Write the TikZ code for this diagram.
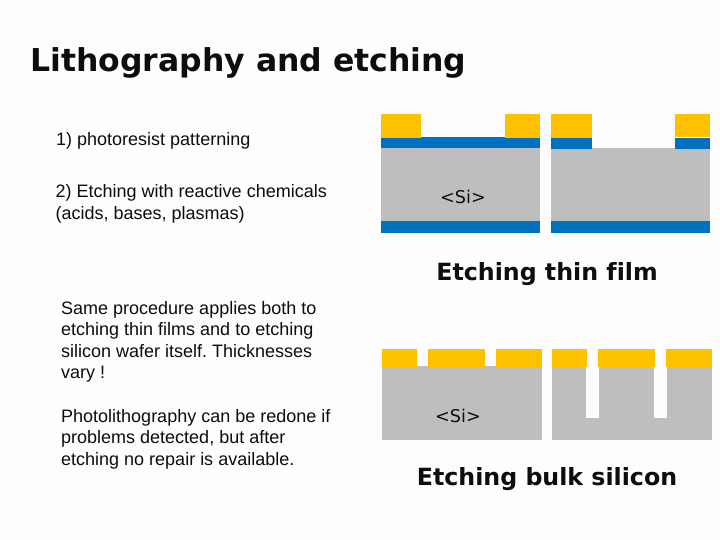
\documentclass[tikz,border=0pt]{standalone}
\usepackage{fontspec}
\setmainfont[Ligatures=CommonOff]{Liberation Sans}
\newfontfamily\djv[Ligatures=CommonOff]{DejaVu Sans}
\definecolor{bgc}{HTML}{FDFDFD}
\definecolor{resist}{HTML}{FFC000}
\definecolor{film}{HTML}{0070C0}
\definecolor{wafer}{HTML}{BEBEBE}
\newcommand\toplines[1]{\vtop{\halign{##\hfil\cr #1\crcr}}}
\tikzset{
  txt/.style={anchor=base west,inner sep=0pt,font=\fontsize{18}{21.6}\selectfont\frenchspacing,text=black!95},
  head/.style={anchor=base,inner sep=0pt,font=\djv\bfseries\fontsize{23.7}{29}\selectfont,text=black!95},
  si/.style={anchor=base,inner sep=0pt,font=\djv\fontsize{17.6}{21}\selectfont,text=black!95},
  rs/.style={fill=resist},
  fm/.style={fill=film},
  wf/.style={fill=wafer}
}
\begin{document}
\begin{tikzpicture}[x=1pt,y=-1pt]
\useasboundingbox (0,0) rectangle (720,540);
\fill[bgc] (0,0) rectangle (720,540);
% top left
\fill[fm] (381,137.5) rectangle (540,148);
\fill[wf] (381,148) rectangle (540,221);
\fill[fm] (381,221) rectangle (540,233);
\fill[rs] (381,114) rectangle (421,138);
\fill[rs] (505,114) rectangle (540,138);
% top right
\fill[wf] (551,148) rectangle (710,221);
\fill[fm] (551,221) rectangle (710,233);
\fill[fm] (551,138) rectangle (592,149);
\fill[fm] (675,138) rectangle (710,149);
\fill[rs] (551,114) rectangle (592,138);
\fill[rs] (675,114) rectangle (710,137);
% bottom left
\fill[wf] (382,366) rectangle (542,440);
\fill[rs] (382,349) rectangle (417,367);
\fill[rs] (428,349) rectangle (485,367);
\fill[rs] (496,349) rectangle (542,367);
% bottom right
\fill[wf] (552,367) rectangle (712,440);
\fill[bgc] (586,360) rectangle (599,418);
\fill[bgc] (654,360) rectangle (667,418);
\fill[rs] (552,349) rectangle (587,367);
\fill[rs] (598,349) rectangle (655,367);
\fill[rs] (666,349) rectangle (712,367);
% texts
\node (title) [anchor=base west,inner sep=0pt,font=\djv\bfseries\fontsize{31.5}{38}\selectfont,text=black!95] at (30,72) {Lithography and etching};
\node (t1) [txt] at (56,146) {1) photoresist patterning};
\node (t2) [txt] at (55.5,198) {\toplines{2) Etching with reactive chemicals\cr(acids, bases, plasmas)}};
\node (t3) [txt] at (61,314) {\toplines{Same procedure applies both to\cr etching thin films and to etching\cr silicon wafer itself. Thicknesses\cr vary !}};
\node (t4) [txt] at (61,422) {\toplines{Photolithography can be redone if\cr problems detected, but after\cr etching no repair is available.}};
\node (s1) [si] at (463,204) {<Si>};
\node (s2) [si] at (458,422) {<Si>};
\node (h1) [head] at (547,280) {Etching thin film};
\node (h2) [head] at (547,485) {Etching bulk silicon};
\end{tikzpicture}
\end{document}
